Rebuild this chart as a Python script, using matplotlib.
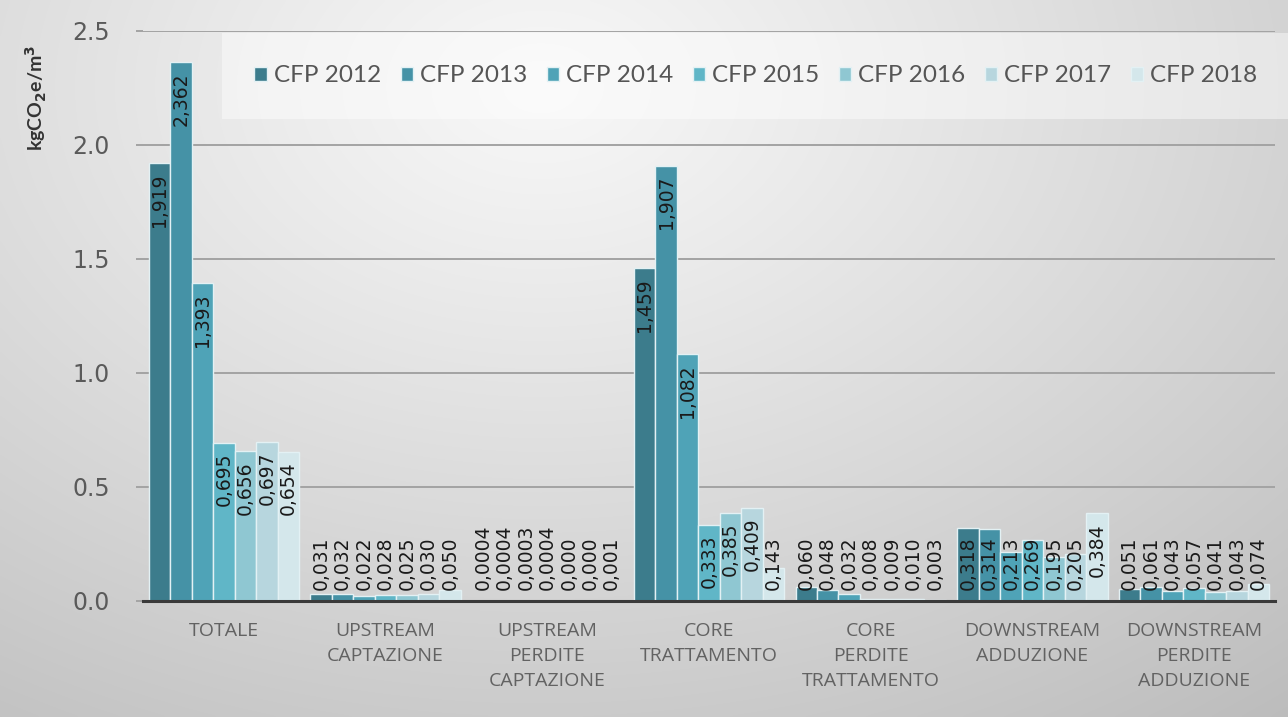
import numpy as np
import matplotlib
matplotlib.use("Agg")
import matplotlib.pyplot as plt

# ---------------- data ----------------
categories = ["TOTALE", "UPSTREAM\nCAPTAZIONE", "UPSTREAM\nPERDITE\nCAPTAZIONE",
              "CORE\nTRATTAMENTO", "CORE\nPERDITE\nTRATTAMENTO",
              "DOWNSTREAM\nADDUZIONE", "DOWNSTREAM\nPERDITE\nADDUZIONE"]
series_names = ["CFP 2012", "CFP 2013", "CFP 2014", "CFP 2015", "CFP 2016", "CFP 2017", "CFP 2018"]

cfp_2012 = [1.919, 0.031, 0.0004, 1.459, 0.060, 0.318, 0.051]
cfp_2013 = [2.362, 0.032, 0.0004, 1.907, 0.048, 0.314, 0.061]
cfp_2014 = [1.393, 0.022, 0.0003, 1.082, 0.032, 0.213, 0.043]
cfp_2015 = [0.695, 0.028, 0.0004, 0.333, 0.008, 0.269, 0.057]
cfp_2016 = [0.656, 0.025, 0.0002, 0.385, 0.009, 0.195, 0.041]
cfp_2017 = [0.697, 0.030, 0.0002, 0.409, 0.010, 0.205, 0.043]
cfp_2018 = [0.654, 0.050, 0.0010, 0.143, 0.003, 0.384, 0.074]
series_values = [cfp_2012, cfp_2013, cfp_2014, cfp_2015, cfp_2016, cfp_2017, cfp_2018]

# decimals shown in the labels of "UPSTREAM PERDITE CAPTAZIONE", per series
perdite_captazione_decimals = [4, 4, 4, 4, 3, 3, 3]

y_ticks = [0.0, 0.5, 1.0, 1.5, 2.0, 2.5]
y_tick_labels = ["0.0", "0.5", "1.0", "1.5", "2.0", "2.5"]

colors = ["#3c7c8c", "#4592a6", "#4fa3b7", "#60b6c7", "#8fc7d2", "#b7d6de", "#d4e7eb"]

# ---------------- figure ----------------
W, H = 1288, 717
fig = plt.figure(figsize=(W / 100, H / 100), dpi=100)

# gradient background
bg = fig.add_axes([0, 0, 1, 1], zorder=-10)
yy, xx = np.mgrid[0:1:300j, 0:1:540j]
r = np.sqrt(((xx - 0.42) * 1.25) ** 2 + ((yy - 0.12) * 1.0) ** 2)
val = np.clip(0.97 - 0.20 * r ** 1.1, 0, 1)
bg.imshow(np.dstack([val, val, val]), extent=[0, 1, 1, 0], aspect="auto",
          interpolation="bicubic")
bg.set_xlim(0, 1)
bg.set_ylim(1, 0)
bg.axis("off")

ax = fig.add_axes([143 / W, 1 - 601 / H, (1275 - 143) / W, (601 - 31) / H])
ax.set_facecolor("none")

n_series = len(series_values)
n_cat = len(categories)
x = np.arange(n_cat)
group_w = 0.93
bw = group_w / n_series

bars_all = []
for i, vals in enumerate(series_values):
    offs = -group_w / 2 + bw * (i + 0.5)
    ax.bar(x + offs, vals, width=bw, color=colors[i], edgecolor="#e3f1f4",
           linewidth=1.0, label=series_names[i], zorder=3)
    bars_all.append((offs, vals))

ax.set_xlim(-0.5, n_cat - 0.5)
ax.set_ylim(0, 2.5)
ax.set_yticks(y_ticks)
ax.set_yticklabels(y_tick_labels)
ax.grid(axis="y", color="#a3a3a3", linewidth=1.4, zorder=0)
ax.set_axisbelow(True)
for s in ["top", "right", "left"]:
    ax.spines[s].set_visible(False)
ax.spines["bottom"].set_color("#3a3a3a")
ax.spines["bottom"].set_linewidth(2.2)
ax.spines["bottom"].set_zorder(5)
ax.tick_params(axis="y", length=5, color="#a3a3a3", width=1.4, pad=19,
               labelsize=17, labelcolor="#5a5a5a")
ax.tick_params(axis="x", length=0, pad=15)
ax.set_xticks(x)
ax.set_xticklabels(categories, fontsize=14, color="#626262", family="Open Sans",
                   linespacing=1.5)
for t in ax.get_yticklabels():
    t.set_family("DejaVu Sans")

# y label
fig.text(36 / W, 1 - 98 / H, r"kgCO$_\mathbf{2}$e/m$^\mathbf{3}$", rotation=90,
         ha="center", va="center", fontsize=14, fontweight="bold", color="#333333",
         family="Lato")

# data labels
def fmt(v, d):
    return f"{v:.{d}f}".replace(".", ",")

texts = []
for i, (offs, vals) in enumerate(bars_all):
    for j, v in enumerate(vals):
        d = perdite_captazione_decimals[i] if j == 2 else 3
        t = ax.annotate(fmt(v, d), xy=(j + offs, v), xytext=(0, -7),
                        textcoords="offset points", rotation=90, ha="center", va="top",
                        fontsize=13.5, color="#1a1a1a", zorder=6, family="DejaVu Sans")
        texts.append((t, j + offs))

fig.canvas.draw()
renderer = fig.canvas.get_renderer()
axis_bottom_px = ax.transData.transform((0, 0))[1]
for t, xp in texts:
    bb = t.get_window_extent(renderer)
    if bb.y0 < axis_bottom_px + 11:
        t.xy = (xp, 0)
        t.set_position((0, 8))
        t.set_va("bottom")

# legend
leg = fig.legend(loc="center", bbox_to_anchor=((240 + 1272) / 2 / W, 1 - 76 / H),
                 ncol=7, frameon=True, handlelength=0.5, handleheight=0.5,
                 handletextpad=0.3, columnspacing=0.8, borderpad=1.35,
                 prop={"family": "Lato", "size": 17.5})
leg.get_frame().set_facecolor("white")
leg.get_frame().set_alpha(0.45)
leg.get_frame().set_edgecolor("none")
leg.get_frame().set_boxstyle("square", pad=0)
for t in leg.get_texts():
    t.set_color("#555555")

fig.savefig("out.png", dpi=100)
